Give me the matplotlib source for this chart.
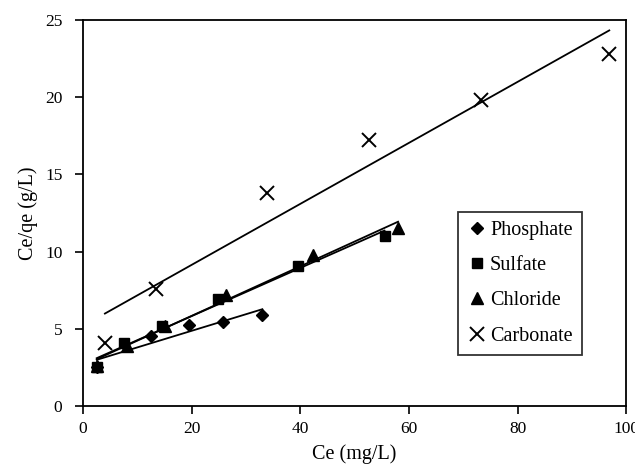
import matplotlib.pyplot as plt
import numpy as np

plt.rcParams['font.family'] = ['Liberation Serif', 'DejaVu Serif']

# data
phosphate_x = [2.5, 12.5, 19.5, 25.8, 33.0]
phosphate_y = [2.5, 4.5, 5.25, 5.45, 5.9]

sulfate_x = [2.5, 7.5, 14.5, 24.8, 39.5, 55.5]
sulfate_y = [2.5, 4.05, 5.15, 6.95, 9.05, 11.0]

chloride_x = [2.5, 8.0, 15.0, 26.3, 42.3, 58.0]
chloride_y = [2.6, 3.9, 5.2, 7.2, 9.75, 11.5]

carbonate_x = [4.0, 13.5, 33.8, 52.7, 73.3, 96.9]
carbonate_y = [4.1, 7.6, 13.8, 17.2, 19.8, 22.8]

series = [
    ("Phosphate", phosphate_x, phosphate_y, "D", 6.5),
    ("Sulfate", sulfate_x, sulfate_y, "s", 6.5),
    ("Chloride", chloride_x, chloride_y, "^", 8.5),
    ("Carbonate", carbonate_x, carbonate_y, "x", 9.5),
]

fig = plt.figure(figsize=(6.35, 4.67), dpi=100)
ax = fig.add_axes([0.131, 0.131, 0.855, 0.826])

for name, xs, ys, mk, ms in series:
    xs = np.array(xs)
    ys = np.array(ys)
    # linear trendline over the data range
    k, b = np.polyfit(xs, ys, 1)
    ax.plot([xs.min(), xs.max()], [k * xs.min() + b, k * xs.max() + b],
            color='black', lw=1.3, zorder=2)
    if mk == "x":
        ax.plot(xs, ys, ls='none', marker=mk, ms=ms, mew=1.4, color='black',
                label=name, zorder=3)
    else:
        ax.plot(xs, ys, ls='none', marker=mk, ms=ms, color='black',
                label=name, zorder=3)

ax.set_xlim(0, 100)
ax.set_ylim(0, 25)
ax.set_xticks(range(0, 101, 20))
ax.set_yticks(range(0, 26, 5))
ax.tick_params(direction='out', length=6, width=1.2, labelsize=12.5)
ax.tick_params(axis='x', pad=5)
ax.tick_params(axis='y', pad=9)
for sp in ax.spines.values():
    sp.set_linewidth(1.3)

ax.set_xlabel("Ce (mg/L)", fontsize=14.5, labelpad=5)
ax.set_ylabel("Ce/qe (g/L)", fontsize=14.5, labelpad=5)

leg = ax.legend(loc='upper left', bbox_to_anchor=(0.690, 0.503),
                borderaxespad=0, frameon=True, fancybox=False,
                edgecolor='black', fontsize=14.5, handlelength=1.0,
                handletextpad=0.15, labelspacing=0.8, borderpad=0.45)
leg.get_frame().set_linewidth(1.3)

fig.savefig("out.png", dpi=100)
